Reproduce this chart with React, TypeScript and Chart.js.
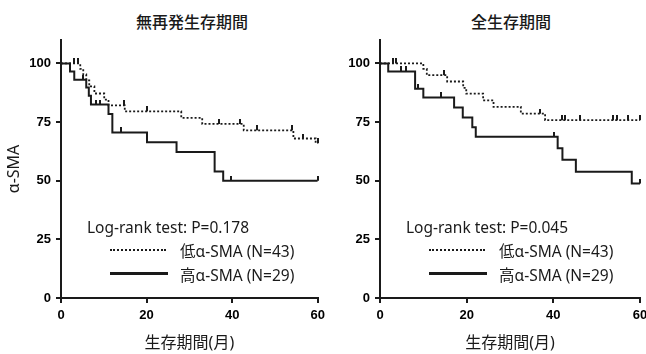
import React, { useEffect, useRef } from 'react';
import { Chart, registerables } from 'chart.js';
Chart.register(...registerables);

// ---------- DATA ----------
const xTickStep = 20;
const yTickStep = 25;
const titles = ['無再発生存期間', '全生存期間'];
const xAxisTitle = '生存期間(月)';
const yAxisTitle = 'α-SMA';
const pValues = ['Log-rank test: P=0.178', 'Log-rank test: P=0.045'];
const legendLabels = ['低α-SMA (N=43)', '高α-SMA (N=29)'];

// Relapse-free survival (left)
const rfsLowT = [0, 4.5, 5.2, 5.9, 6.6, 7.8, 10.1, 11.1, 14.9, 28.1, 33.0, 42.7, 54.3, 59.5, 60];
const rfsLowS = [100, 97.7, 95.3, 92.8, 90.2, 87.2, 84.6, 82.1, 79.6, 76.8, 74.2, 71.5, 68.0, 66.0, 66.0];
const rfsLowCensT = [3.1, 3.9, 14.7, 20.1, 36.9, 41.9, 45.7, 54.0, 56.6, 60];
const rfsLowCensS = [100, 100, 82.1, 79.6, 74.2, 74.2, 71.5, 71.5, 68.0, 66.0];
const rfsHighT = [0, 2.1, 3.1, 5.9, 6.5, 7.0, 11.1, 12.0, 20.1, 27.0, 35.9, 37.9, 60];
const rfsHighS = [100, 96.6, 93.1, 89.7, 86.2, 82.5, 78.4, 70.6, 66.4, 62.2, 53.9, 50.0, 50.0];
const rfsHighCensT = [5.1, 8.2, 9.2, 14.0, 39.8, 60];
const rfsHighCensS = [93.1, 82.5, 82.5, 70.6, 50.0, 50.0];

// Overall survival (right)
const osLowT = [0, 10.0, 10.8, 15.5, 19.2, 19.9, 23.8, 26.2, 32.5, 38.1, 60];
const osLowS = [100, 97.7, 95.0, 92.3, 89.6, 87.1, 84.3, 81.5, 78.6, 75.8, 75.8];
const osLowCensT = [2.9, 3.8, 14.8, 36.9, 41.9, 42.7, 46.2, 53.8, 54.6, 57.3, 60];
const osLowCensS = [100, 100, 95.0, 78.6, 75.8, 75.8, 75.8, 75.8, 75.8, 75.8, 75.8];
const osHighT = [0, 1.9, 8.1, 10.0, 17.1, 19.1, 21.3, 22.1, 41.0, 42.1, 45.2, 58.1, 60];
const osHighS = [100, 96.6, 89.2, 85.5, 81.2, 77.0, 72.8, 68.7, 63.9, 58.9, 53.8, 48.8, 48.8];
const osHighCensT = [4.8, 5.9, 8.8, 14.1, 40.2, 60];
const osHighCensS = [96.6, 96.6, 89.2, 85.5, 68.7, 48.8];

// ---------- helpers ----------
const INK = '#1a1a1a';
const LATIN = '"Noto Sans", "Noto Sans CJK JP", sans-serif';
const TICKFONT = '"Liberation Sans", Arial, sans-serif';

const pts = (t: number[], s: number[]) => t.map((x, i) => ({ x, y: s[i] }));

function tickImage() {
  const c = document.createElement('canvas');
  c.width = 2;
  c.height = 10;
  const g = c.getContext('2d')!;
  g.fillStyle = INK;
  g.fillRect(0, 0, 2, 5);
  return c;
}

type PanelProps = {
  left: number;
  width: number;
  yW: number;
  padRight: number;
  showYTitle: boolean;
  lowT: number[]; lowS: number[]; lowCT: number[]; lowCS: number[];
  highT: number[]; highS: number[]; highCT: number[]; highCS: number[];
};

function Panel(p: PanelProps) {
  const ref = useRef<HTMLCanvasElement>(null);
  useEffect(() => {
    const img = tickImage();
    const chart = new Chart(ref.current!, {
      type: 'line',
      data: {
        datasets: [
          {
            data: pts(p.lowT, p.lowS),
            stepped: 'before',
            borderColor: INK,
            borderWidth: 1.8,
            borderDash: [2, 2],
            pointRadius: 0,
            fill: false,
          },
          {
            data: pts(p.highT, p.highS),
            stepped: 'before',
            borderColor: INK,
            borderWidth: 2,
            pointRadius: 0,
            fill: false,
          },
          {
            data: pts(p.lowCT, p.lowCS),
            showLine: false,
            pointStyle: img as any,
            pointRadius: 3,
            clip: false as any,
          },
          {
            data: pts(p.highCT, p.highCS),
            showLine: false,
            pointStyle: img as any,
            pointRadius: 3,
            clip: false as any,
          },
        ],
      },
      options: {
        responsive: false,
        animation: false,
        events: [],
        layout: { padding: { top: 40, right: p.padRight, left: 0, bottom: 0 } },
        plugins: { legend: { display: false }, tooltip: { enabled: false }, title: { display: false } },
        scales: {
          x: {
            type: 'linear',
            min: 0,
            max: 60,
            ticks: { stepSize: xTickStep, color: '#000', padding: 5, font: { family: TICKFONT, size: 13, weight: 'bold' } },
            grid: { drawOnChartArea: false, drawTicks: true, tickLength: 5, color: INK, lineWidth: 2 },
            border: { color: INK, width: 2 },
            title: {
              display: true,
              text: xAxisTitle,
              color: INK,
              font: { family: LATIN, size: 16 },
              padding: { top: 0, bottom: 1 },
            },
            afterFit: (s: any) => { s.height = 56; },
          },
          y: {
            type: 'linear',
            min: 0,
            max: 110,
            ticks: { stepSize: yTickStep, includeBounds: false, color: '#000', padding: 5, font: { family: TICKFONT, size: 13, weight: 'bold' } },
            grid: { drawOnChartArea: false, drawTicks: true, tickLength: 5, color: INK, lineWidth: 2 },
            border: { color: INK, width: 2 },
            title: {
              display: p.showYTitle,
              text: yAxisTitle,
              color: INK,
              font: { family: LATIN, size: 16 },
              padding: { top: 5, bottom: 0 },
            },
            afterFit: (s: any) => { s.width = p.yW; },
          },
        },
      } as any,
    });
    return () => chart.destroy();
  }, []);
  return (
    <canvas
      ref={ref}
      width={p.width}
      height={354}
      style={{ position: 'absolute', left: p.left, top: 0, width: p.width, height: 354 }}
    />
  );
}

function Legend({ dx, p }: { dx: number; p: string }) {
  const txt: React.CSSProperties = {
    position: 'absolute',
    fontFamily: LATIN,
    fontSize: 15.5,
    lineHeight: '20px',
    color: INK,
    whiteSpace: 'nowrap',
  };
  return (
    <>
      <div style={{ ...txt, left: 87 + dx, top: 217 }}>{p}</div>
      <div style={{ position: 'absolute', left: 110 + dx, top: 249, width: 56, borderTop: `2px dotted ${INK}` }} />
      <div style={{ ...txt, left: 180 + dx, top: 241 }}>{legendLabels[0]}</div>
      <div style={{ position: 'absolute', left: 110 + dx, top: 272, width: 58, borderTop: `3px solid ${INK}` }} />
      <div style={{ ...txt, left: 180 + dx, top: 265 }}>{legendLabels[1]}</div>
    </>
  );
}

export default function App() {
  const titleStyle: React.CSSProperties = {
    position: 'absolute',
    top: 11,
    width: 240,
    textAlign: 'center',
    fontFamily: '"Noto Sans CJK JP", sans-serif',
    fontSize: 16,
    fontWeight: 500,
    lineHeight: '20px',
    color: INK,
  };
  return (
    <div style={{ position: 'absolute', left: 0, top: 0, width: 646, height: 354, overflow: 'hidden', background: '#fff' }}>
      <div style={{ ...titleStyle, left: 192 - 120 }}>{titles[0]}</div>
      <div style={{ ...titleStyle, left: 511 - 120 }}>{titles[1]}</div>
      <Panel
        left={0} width={330} yW={61} padRight={9} showYTitle={true}
        lowT={rfsLowT} lowS={rfsLowS} lowCT={rfsLowCensT} lowCS={rfsLowCensS}
        highT={rfsHighT} highS={rfsHighS} highCT={rfsHighCensT} highCS={rfsHighCensS}
      />
      <Panel
        left={320} width={340} yW={60} padRight={20} showYTitle={false}
        lowT={osLowT} lowS={osLowS} lowCT={osLowCensT} lowCS={osLowCensS}
        highT={osHighT} highS={osHighS} highCT={osHighCensT} highCS={osHighCensS}
      />
      <Legend dx={0} p={pValues[0]} />
      <Legend dx={319} p={pValues[1]} />
    </div>
  );
}
